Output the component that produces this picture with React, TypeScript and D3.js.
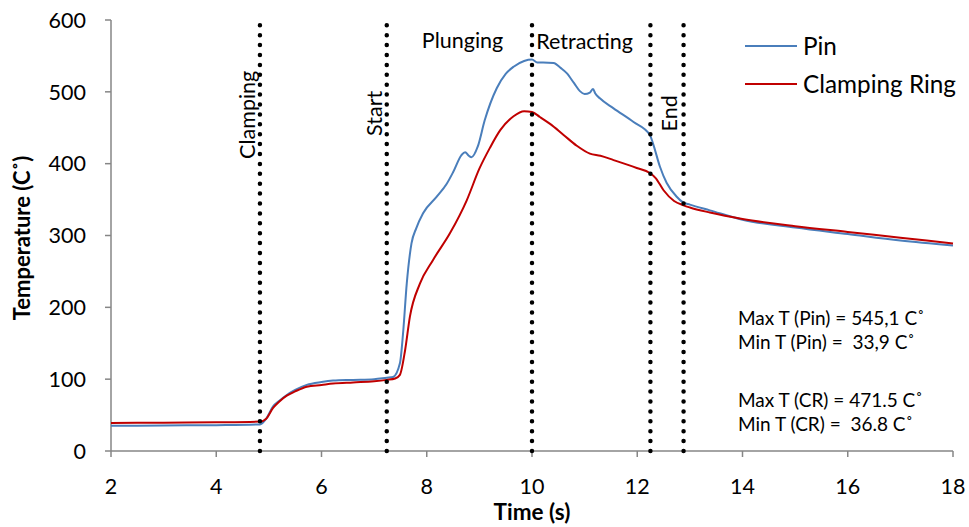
import React from 'react'
import * as d3 from 'd3'

// Pin (thermocouple in the pin)
const pinTime = [2, 3, 4, 4.83, 4.95, 5.08, 5.2, 5.34, 5.5, 5.72, 6.0, 6.22, 6.6, 7.0, 7.24, 7.36, 7.49, 7.55, 7.62, 7.71, 7.8, 7.93, 8.19, 8.38, 8.5, 8.66, 8.73, 8.8, 8.85, 8.97, 9.1, 9.33, 9.5, 9.65, 9.85, 10.0, 10.1, 10.21, 10.41, 10.55, 10.66, 10.8, 10.91, 11.0, 11.1, 11.16, 11.2, 11.29, 11.55, 11.93, 12.24, 12.3, 12.43, 12.56, 12.75, 12.87, 13.0, 13.38, 14, 15, 16, 17, 18]
const pinTemp = [35, 35.5, 36, 37, 45, 62, 70, 78, 85, 92, 96, 98, 99, 100, 102, 103, 122, 164, 233, 289, 310, 331, 354, 372, 388, 412, 416, 411, 409, 424, 460, 505, 525, 535, 543, 545, 541, 541, 540, 533, 526, 512, 501, 497, 499, 504, 498, 491, 477, 458, 440, 428, 396, 373, 354, 346, 343, 335, 322, 311, 302, 293, 286]

// Clamping ring
const ringTime = [2, 3, 4, 4.83, 4.95, 5.08, 5.2, 5.34, 5.5, 5.72, 6.0, 6.22, 6.6, 7.0, 7.24, 7.4, 7.49, 7.59, 7.68, 7.87, 8.12, 8.44, 8.76, 9.0, 9.2, 9.4, 9.65, 9.85, 10.0, 10.15, 10.35, 10.6, 10.85, 11.1, 11.3, 11.55, 11.99, 12.24, 12.35, 12.5, 12.7, 12.88, 13.0, 13.38, 14, 15, 16, 17, 18]
const ringTemp = [39, 39.5, 40, 41, 45, 60, 69, 77, 83, 89.5, 92, 94, 95.5, 97, 99, 101, 106, 141, 187, 233, 266, 303, 349, 393, 422, 447, 466, 473, 472, 465, 455, 440, 425, 414, 411, 405, 394, 387, 380, 363, 348, 342, 339, 332, 323, 313, 305, 297, 289]

const xTicks = [2, 4, 6, 8, 10, 12, 14, 16, 18]
const yTicks = [0, 100, 200, 300, 400, 500, 600]

// phase boundaries (s) and their labels
const markerTimes = [4.83, 7.24, 10.0, 12.25, 12.88]
const vLabels = [
  { text: 'Clamping', t: 4.58, temp: 468 },
  { text: 'Start', t: 7.0, temp: 470 },
  { text: 'End', t: 12.6, temp: 470 },
]
const hLabels = [
  { text: 'Plunging', t: 8.68, temp: 572 },
  { text: 'Retracting', t: 11.0, temp: 570 },
]
const notes = ['Max T (Pin) = 545,1 C˚', 'Min T (Pin) =  33,9 C˚', 'Max T (CR) = 471.5 C˚', 'Min T (CR) =  36.8 C˚']
const noteY = [318, 342, 400, 424]

const W = 969
const H = 527
const FONT = 'Lato, Carlito, "Open Sans", sans-serif'

export default function App() {
  const x = d3.scaleLinear().domain([2, 18]).range([111, 953])
  const y = d3.scaleLinear().domain([0, 600]).range([451, 20])
  const line = d3.line<[number, number]>()
    .x(d => x(d[0]))
    .y(d => y(d[1]))
    .curve(d3.curveMonotoneX)

  const pin = line(pinTime.map((t, i) => [t, pinTemp[i]]) as [number, number][]) || ''
  const ring = line(ringTime.map((t, i) => [t, ringTemp[i]]) as [number, number][]) || ''

  const axisColor = '#868686'
  const pinColor = '#4a7ebb'
  const ringColor = '#c00000'

  return (
    <svg width={W} height={H} style={{ position: 'absolute', left: 0, top: 0, background: '#fff' }} fontFamily={FONT}>
      {/* axes */}
      <line x1={x(2)} x2={x(2)} y1={y(0)} y2={y(600)} stroke={axisColor} strokeWidth={1.5} />
      <line x1={x(2)} x2={x(18)} y1={y(0)} y2={y(0)} stroke={axisColor} strokeWidth={1.5} />
      {yTicks.map(v => (
        <g key={'y' + v}>
          <line x1={x(2) - 6} x2={x(2)} y1={y(v)} y2={y(v)} stroke={axisColor} strokeWidth={1.5} />
          <text x={86} y={y(v)} dy="0.36em" textAnchor="end" fontSize={21.5}>{v}</text>
        </g>
      ))}
      {xTicks.map(v => (
        <g key={'x' + v}>
          <line x1={x(v)} x2={x(v)} y1={y(0)} y2={y(0) + 6} stroke={axisColor} strokeWidth={1.5} />
          <text x={x(v)} y={486} dy="0.36em" textAnchor="middle" fontSize={21.5}>{v}</text>
        </g>
      ))}
      <text x={532} y={512} dy="0.36em" textAnchor="middle" fontSize={22.5} fontWeight="bold">Time (s)</text>
      <text transform={`translate(22,${238}) rotate(-90)`} dy="0.36em" textAnchor="middle" fontSize={22} fontWeight="bold">Temperature (C˚)</text>

      {/* series */}
      <path d={pin} fill="none" stroke={pinColor} strokeWidth={2} />
      <path d={ring} fill="none" stroke={ringColor} strokeWidth={2} />

      {/* dotted phase markers */}
      {markerTimes.map(t => (
        <line key={'m' + t} x1={x(t)} x2={x(t)} y1={y(0)} y2={y(596)} stroke="#000" strokeWidth={4.5}
          strokeLinecap="round" strokeDasharray="0 9.9" />
      ))}
      {vLabels.map(l => (
        <text key={l.text} transform={`translate(${x(l.t)},${y(l.temp)}) rotate(-90)`} dy="0.36em"
          textAnchor="middle" fontSize={21.5}>{l.text}</text>
      ))}
      {hLabels.map(l => (
        <text key={l.text} x={x(l.t)} y={y(l.temp)} dy="0.36em" textAnchor="middle" fontSize={21.5}>{l.text}</text>
      ))}

      {/* legend */}
      <line x1={745} x2={797} y1={46} y2={46} stroke={pinColor} strokeWidth={2} />
      <text x={803} y={46} dy="0.36em" fontSize={24.3}>Pin</text>
      <line x1={745} x2={797} y1={84} y2={84} stroke={ringColor} strokeWidth={2} />
      <text x={803} y={84} dy="0.36em" fontSize={24.3}>Clamping Ring</text>

      {/* annotations */}
      {notes.map((n, i) => (
        <text key={'n' + i} x={738} y={noteY[i]} dy="0.36em" fontSize={19} style={{ whiteSpace: 'pre' }}>{n}</text>
      ))}
    </svg>
  )
}
